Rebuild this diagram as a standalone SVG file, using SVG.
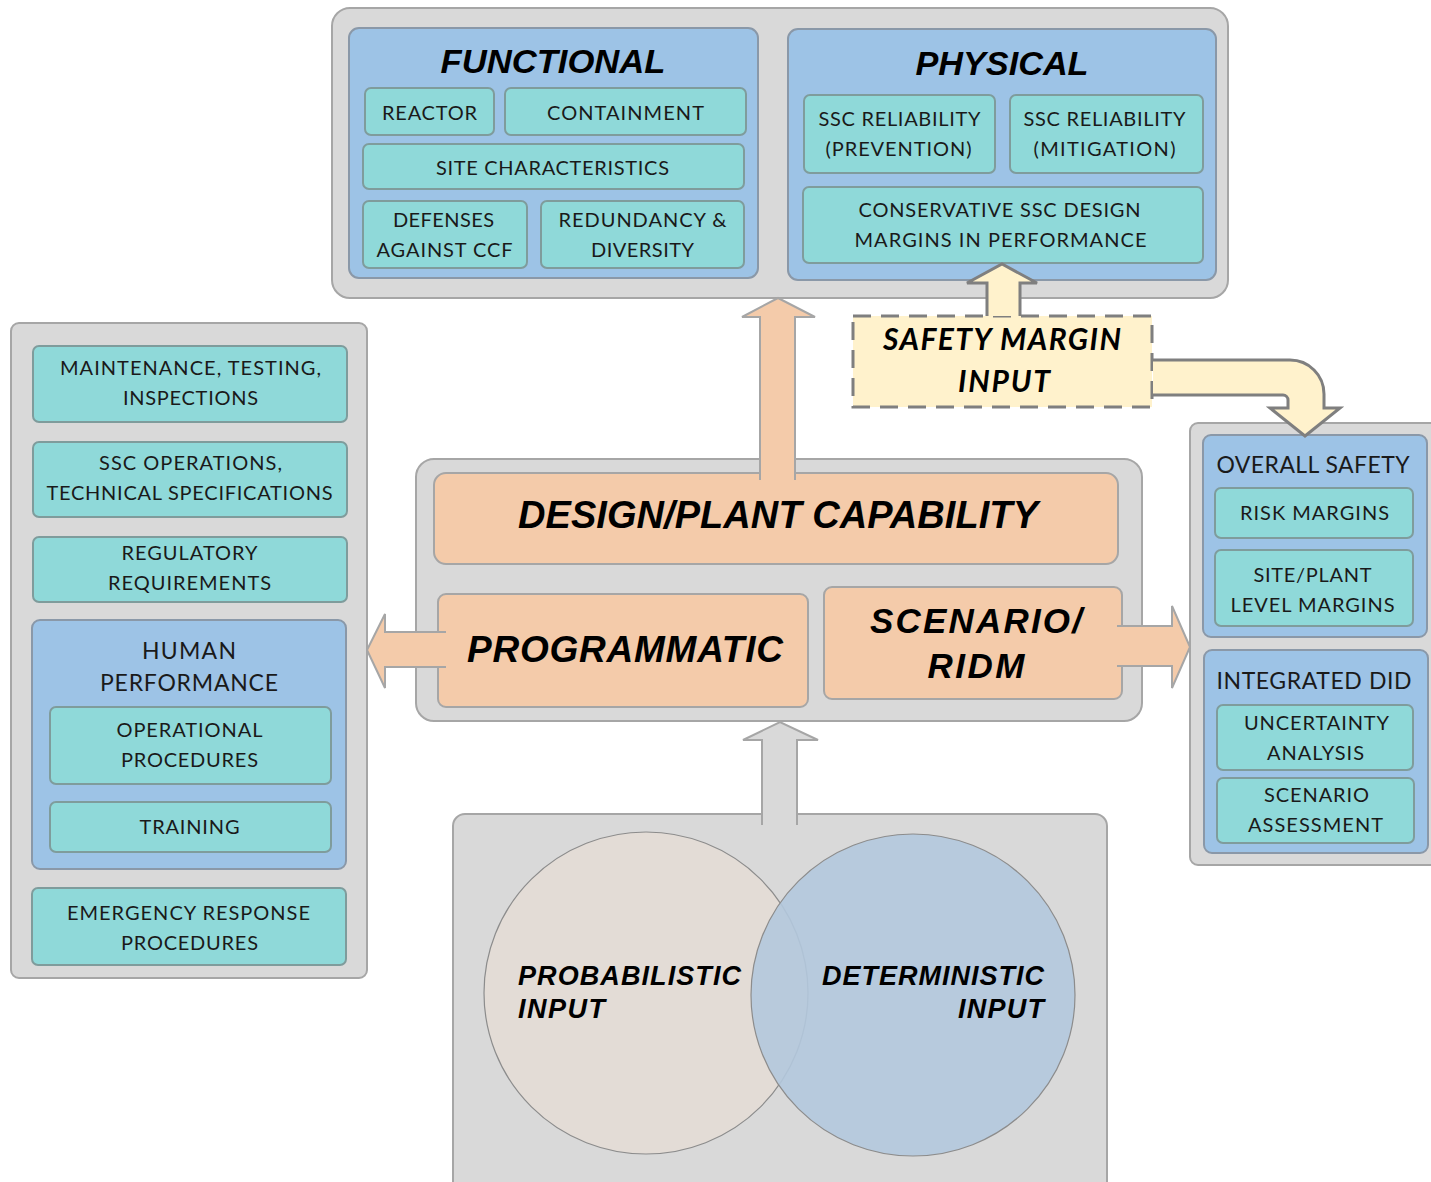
<svg xmlns="http://www.w3.org/2000/svg" width="1431" height="1182" viewBox="0 0 1431 1182">
<style>
.cont{fill:#d9d9d9;stroke:#a6a6a6;stroke-width:2}
.blue{fill:#9dc3e6;stroke:#8a98a8;stroke-width:2}
.teal{fill:#8fd9d9;stroke:#7f9c9c;stroke-width:2}
.peach{fill:#f4cbaa;stroke:#a6a6a6;stroke-width:2}
.t{font-family:Lato,"Liberation Sans",sans-serif;font-size:20px;fill:#1a1a1a;text-anchor:middle;letter-spacing:1px}
.h{font-family:Lato,"Liberation Sans",sans-serif;font-size:23px;fill:#1a1a1a;text-anchor:middle}
.b{font-family:"Liberation Sans",Arial,sans-serif;font-weight:bold;font-style:italic;fill:#000;text-anchor:middle}
.s{font-family:Lato,"Liberation Sans",sans-serif;font-weight:bold;font-style:italic;font-size:30px;fill:#000;text-anchor:middle}
.arrP{fill:#f4cbaa;stroke:#a6a6a6;stroke-width:2;stroke-linejoin:miter}
.arrY{fill:#fff2cc;stroke:#7f7f7f;stroke-width:3;stroke-linejoin:miter}
.arrG{fill:#d9d9d9;stroke:#a6a6a6;stroke-width:2}
</style>

<g id="top-container">
<rect class="cont" x="332" y="8" width="896" height="290" rx="18"/>
</g>
<g id="functional">
<rect class="blue" x="349" y="28" width="409" height="250" rx="10"/>
<text class="b" x="553" y="73" font-size="33" textLength="225" lengthAdjust="spacingAndGlyphs">FUNCTIONAL</text>
</g>
<g id="reactor"><rect class="teal" x="365" y="88" width="129" height="47" rx="6"/><text class="t" x="430" y="120" textLength="96">REACTOR</text></g>
<g id="containment"><rect class="teal" x="505" y="88" width="241" height="47" rx="6"/><text class="t" x="626" y="120" textLength="158">CONTAINMENT</text></g>
<g id="site-characteristics"><rect class="teal" x="363" y="144" width="381" height="45" rx="6"/><text class="t" x="553" y="175" textLength="234">SITE CHARACTERISTICS</text></g>
<g id="defenses"><rect class="teal" x="363" y="201" width="164" height="67" rx="6"/><text class="t" x="444" y="227" textLength="102">DEFENSES</text><text class="t" x="445" y="257" textLength="137">AGAINST CCF</text></g>
<g id="redundancy"><rect class="teal" x="541" y="201" width="203" height="67" rx="6"/><text class="t" x="643" y="227" textLength="169">REDUNDANCY &amp;</text><text class="t" x="643" y="257" textLength="104">DIVERSITY</text></g>

<g id="physical">
<rect class="blue" x="788" y="29" width="428" height="251" rx="10"/>
<text class="b" x="1002" y="75" font-size="33" textLength="173" lengthAdjust="spacingAndGlyphs">PHYSICAL</text>
</g>
<g id="ssc-prevention"><rect class="teal" x="804" y="95" width="191" height="78" rx="6"/><text class="t" x="900" y="126" textLength="163">SSC RELIABILITY</text><text class="t" x="899" y="156" textLength="147">(PREVENTION)</text></g>
<g id="ssc-mitigation"><rect class="teal" x="1010" y="95" width="193" height="78" rx="6"/><text class="t" x="1105" y="126" textLength="163">SSC RELIABILITY</text><text class="t" x="1105" y="156" textLength="143">(MITIGATION)</text></g>
<g id="conservative"><rect class="teal" x="803" y="187" width="400" height="76" rx="6"/><text class="t" x="1000" y="217" textLength="283">CONSERVATIVE SSC DESIGN</text><text class="t" x="1001" y="247" textLength="293">MARGINS IN PERFORMANCE</text></g>

<g id="programmatic-panel"><rect class="cont" x="11" y="323" width="356" height="655" rx="8"/></g>
<g id="maintenance"><rect class="teal" x="33" y="346" width="314" height="76" rx="6"/><text class="t" x="191" y="375" textLength="262">MAINTENANCE, TESTING,</text><text class="t" x="191" y="405" textLength="136">INSPECTIONS</text></g>
<g id="ssc-operations"><rect class="teal" x="33" y="442" width="314" height="75" rx="6"/><text class="t" x="191" y="470" textLength="184">SSC OPERATIONS,</text><text class="t" x="190" y="500" textLength="287">TECHNICAL SPECIFICATIONS</text></g>
<g id="regulatory"><rect class="teal" x="33" y="537" width="314" height="65" rx="6"/><text class="t" x="190" y="560" textLength="137">REGULATORY</text><text class="t" x="190" y="590" textLength="164">REQUIREMENTS</text></g>
<g id="human-performance"><rect class="blue" x="32" y="620" width="314" height="249" rx="8"/><text class="h" x="189" y="659" textLength="94">HUMAN</text><text class="h" x="189" y="691" textLength="178">PERFORMANCE</text></g>
<g id="operational-procedures"><rect class="teal" x="50" y="707" width="281" height="77" rx="6"/><text class="t" x="190" y="737" textLength="147">OPERATIONAL</text><text class="t" x="190" y="767" textLength="138">PROCEDURES</text></g>
<g id="training"><rect class="teal" x="50" y="802" width="281" height="50" rx="6"/><text class="t" x="190" y="834" textLength="101">TRAINING</text></g>
<g id="emergency"><rect class="teal" x="32" y="888" width="314" height="77" rx="6"/><text class="t" x="189" y="920" textLength="244">EMERGENCY RESPONSE</text><text class="t" x="190" y="950" textLength="138">PROCEDURES</text></g>

<g id="right-container"><rect class="cont" x="1190" y="423" width="260" height="442" rx="8"/></g>
<g id="overall-safety"><rect class="blue" x="1203" y="435" width="224" height="202" rx="8"/><text class="h" x="1313" y="473" textLength="193">OVERALL SAFETY</text></g>
<g id="risk-margins"><rect class="teal" x="1215" y="488" width="198" height="50" rx="6"/><text class="t" x="1315" y="520" textLength="150">RISK MARGINS</text></g>
<g id="site-plant"><rect class="teal" x="1215" y="550" width="198" height="76" rx="6"/><text class="t" x="1313" y="582" textLength="119">SITE/PLANT</text><text class="t" x="1313" y="612" textLength="165">LEVEL MARGINS</text></g>
<g id="integrated-did"><rect class="blue" x="1204" y="650" width="224" height="203" rx="8"/><text class="h" x="1314" y="689" textLength="195">INTEGRATED DID</text></g>
<g id="uncertainty"><rect class="teal" x="1217" y="705" width="196" height="65" rx="6"/><text class="t" x="1317" y="730" textLength="146">UNCERTAINTY</text><text class="t" x="1316" y="760" textLength="98">ANALYSIS</text></g>
<g id="scenario-assessment"><rect class="teal" x="1217" y="778" width="197" height="65" rx="6"/><text class="t" x="1317" y="802" textLength="106">SCENARIO</text><text class="t" x="1316" y="832" textLength="136">ASSESSMENT</text></g>

<g id="center-container"><rect class="cont" x="416" y="459" width="726" height="262" rx="18"/></g>

<g id="venn">
<rect class="cont" x="453" y="814" width="654" height="380" rx="12"/>
<ellipse cx="646" cy="993" rx="162" ry="161" fill="#e3dcd6" stroke="#8c8c8c" stroke-width="1.2"/>
<ellipse cx="913" cy="995" rx="162" ry="161" fill="#b3c8dd" fill-opacity="0.9" stroke="#8c8c8c" stroke-width="1.2"/>
<text class="b" x="518" y="985" font-size="27" style="text-anchor:start" textLength="223">PROBABILISTIC</text>
<text class="b" x="518" y="1018" font-size="27" style="text-anchor:start" textLength="87">INPUT</text>
<text class="b" x="1044" y="985" font-size="27" style="text-anchor:end" textLength="222">DETERMINISTIC</text>
<text class="b" x="1044" y="1018" font-size="27" style="text-anchor:end" textLength="86">INPUT</text>
</g>

<g id="design-plant-capability"><rect class="peach" x="434" y="473" width="684" height="91" rx="12"/><text class="b" x="778" y="528" font-size="38" textLength="520">DESIGN/PLANT CAPABILITY</text></g>
<g id="programmatic"><rect class="peach" x="438" y="594" width="370" height="113" rx="8"/><text class="b" x="625" y="662" font-size="37" textLength="316">PROGRAMMATIC</text></g>
<g id="scenario-ridm"><rect class="peach" x="824" y="587" width="298" height="112" rx="8"/><text class="b" x="976" y="633" font-size="35" textLength="212">SCENARIO/</text><text class="b" x="976" y="678" font-size="35" textLength="97">RIDM</text></g>

<g id="safety-margin-input">
<rect x="853" y="316" width="299" height="91" fill="#fff2cc" stroke="#7f7f7f" stroke-width="3" stroke-dasharray="18 10"/>
<text class="s" x="1002" y="350" textLength="238">SAFETY MARGIN</text>
<text class="s" x="1004" y="392" textLength="92">INPUT</text>
</g>

<g id="connectors">
<path class="arrP" d="M760,480 V317 H742 L778,298 L815,317 H795 V480"/>
<path class="arrP" d="M446,632 H385 V614 L367,650 L385,688 V667 H446"/>
<path class="arrP" d="M1117,626 H1172 V606 L1190,647 L1172,688 V666 H1117"/>
<path class="arrG" d="M762,825 V740 H743 L780,722 L818,740 H797 V825"/>
<path class="arrY" d="M987,316 V283 H967 L1002,264 L1037,283 H1020 V316"/>
<path class="arrY" d="M1153,360 H1290 A34,34 0 0 1 1324,394 V408 H1340 L1305,436 L1270,408 H1288 V400 A5,5 0 0 0 1283,395 H1153"/>
</g>
</svg>
